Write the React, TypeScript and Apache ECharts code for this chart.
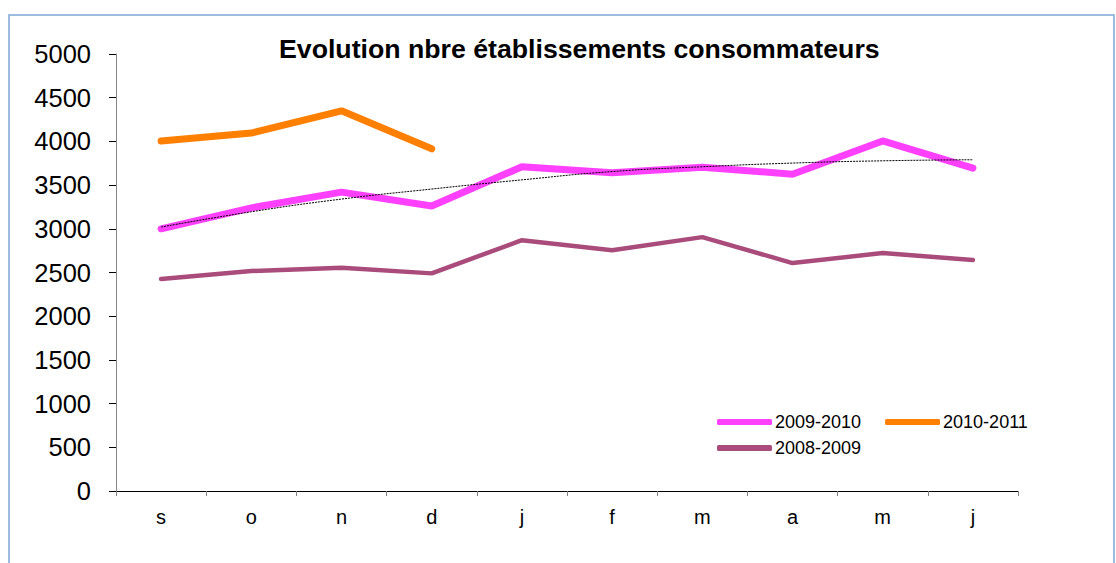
import React, { useEffect, useRef } from "react";
import * as echarts from "echarts";

const months = ["s", "o", "n", "d", "j", "f", "m", "a", "m", "j"];
const s2009_2010 = [3000, 3240, 3420, 3260, 3710, 3640, 3705, 3625, 4005, 3695];
const s2010_2011 = [4005, 4095, 4350, 3915];
const s2008_2009 = [2425, 2517, 2555, 2490, 2870, 2755, 2905, 2608, 2722, 2643];
const trend = [3020, 3195, 3340, 3455, 3560, 3655, 3710, 3752, 3778, 3790];
const yTicks = { min: 0, max: 5000, interval: 500 };

const FONT = "Liberation Sans, Arial, sans-serif";

export default function App() {
  const ref = useRef<HTMLDivElement>(null);
  useEffect(() => {
    if (!ref.current) return;
    const chart = echarts.init(ref.current, undefined, { renderer: "svg" });
    const legendText = { fontFamily: FONT, fontSize: 18, color: "#000", padding: [0, 0, 0, -2] };
    chart.setOption({
      animation: false,
      backgroundColor: "#ffffff",
      textStyle: { fontFamily: FONT },
      title: {
        text: "Evolution nbre établissements consommateurs",
        left: 279,
        top: 35,
        padding: 0,
        textStyle: { fontFamily: FONT, fontSize: 26.7, fontWeight: "bold", color: "#000" },
      },
      graphic: [
        {
          type: "rect",
          shape: { x: 9, y: 15, width: 1105, height: 560 },
          style: { fill: "none", stroke: "#7FA6D4", lineWidth: 1.5 },
          silent: true,
        },
      ],
      legend: [
        {
          data: ["2009-2010", "2010-2011"],
          left: 717,
          top: 413,
          orient: "horizontal",
          itemWidth: 55,
          itemHeight: 6,
          itemGap: 24,
          icon: "roundRect",
          textStyle: legendText,
          padding: 0,
        },
        {
          data: ["2008-2009"],
          left: 717,
          top: 439,
          itemWidth: 55,
          itemHeight: 6,
          icon: "roundRect",
          textStyle: legendText,
          padding: 0,
        },
      ],
      grid: { left: 116, right: 98, top: 54, bottom: 72, containLabel: false },
      xAxis: {
        type: "category",
        data: months,
        boundaryGap: true,
        axisLine: { show: true, lineStyle: { color: "#000", width: 1 } },
        axisTick: { show: true, length: 5, lineStyle: { color: "#808080" } },
        axisLabel: { fontFamily: FONT, fontSize: 20, color: "#000", margin: 16 },
        splitLine: { show: false },
      },
      yAxis: {
        type: "value",
        min: yTicks.min,
        max: yTicks.max,
        interval: yTicks.interval,
        axisLine: { show: true, lineStyle: { color: "#868686", width: 1 } },
        axisTick: { show: true, inside: false, length: 7, lineStyle: { color: "#000" } },
        axisLabel: {
          fontFamily: FONT,
          fontSize: 25.5,
          color: "#000",
          margin: 25,
          formatter: (v: number) => String(v),
        },
        splitLine: { show: false },
      },
      series: [
        {
          name: "2009-2010",
          type: "line",
          data: s2009_2010,
          symbol: "none",
          color: "#FF40FF",
          lineStyle: { width: 7, color: "#FF40FF", cap: "round" },
          z: 3,
        },
        {
          name: "2010-2011",
          type: "line",
          data: s2010_2011,
          symbol: "none",
          color: "#FF7F00",
          lineStyle: { width: 7, color: "#FF7F00", cap: "round" },
          z: 3,
        },
        {
          name: "2008-2009",
          type: "line",
          data: s2008_2009,
          symbol: "none",
          color: "#AA4C7B",
          lineStyle: { width: 4.5, color: "#AA4C7B", cap: "round" },
          z: 3,
        },
        {
          name: "trend",
          type: "line",
          data: trend,
          symbol: "none",
          smooth: true,
          color: "#000",
          lineStyle: { width: 1, color: "#000", type: [2, 1] },
          z: 4,
        },
      ],
    });
    return () => chart.dispose();
  }, []);
  return (
    <div
      ref={ref}
      style={{ position: "absolute", left: 0, top: 0, width: 1116, height: 563 }}
    />
  );
}
